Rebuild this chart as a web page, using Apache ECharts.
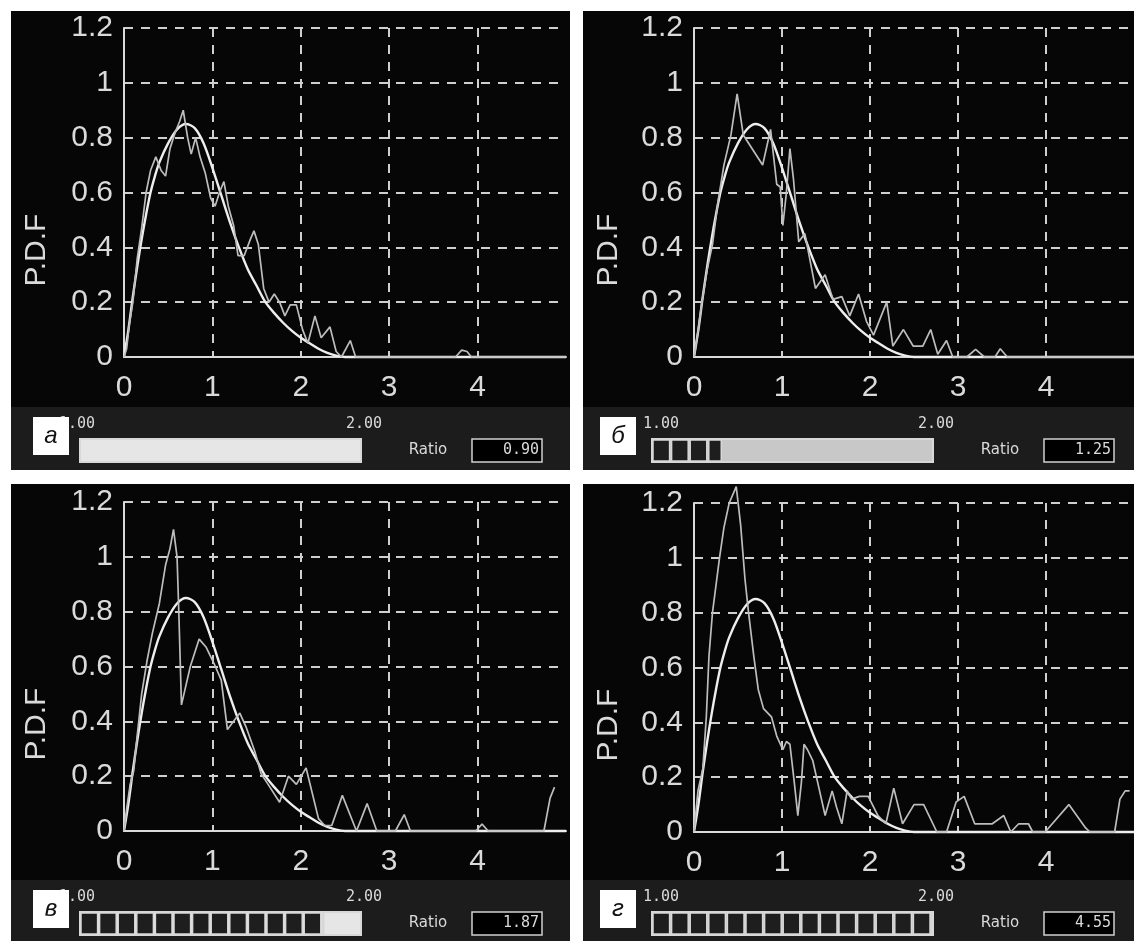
<!DOCTYPE html>
<html><head><meta charset="utf-8">
<script src="https://cdn.jsdelivr.net/npm/echarts@6/dist/echarts.min.js"></script>
<style>html,body{margin:0;padding:0;background:#fff;}#c{width:1134px;height:941px;}</style>
</head><body><div id="c"></div>
<script>
// ---- data ----
const yTicks = [0, 0.2, 0.4, 0.6, 0.8, 1, 1.2];
const xTicks = [0, 1, 2, 3, 4];
const fitCurve = [[0,0],[0.05,0.1],[0.1,0.22],[0.15,0.33],[0.2,0.43],[0.25,0.52],[0.3,0.6],[0.35,0.66],[0.4,0.71],[0.5,0.78],[0.6,0.83],[0.7,0.85],[0.8,0.835],[0.9,0.78],[1.0,0.69],[1.1,0.59],[1.2,0.49],[1.3,0.4],[1.4,0.32],[1.5,0.26],[1.6,0.2],[1.7,0.16],[1.8,0.125],[1.9,0.095],[2.0,0.07],[2.1,0.05],[2.2,0.03],[2.3,0.015],[2.4,0.005],[2.5,0],[5,0]];
const jaggedA = [[0,0],[0.03,0.03],[0.06,0.12],[0.1,0.2],[0.15,0.36],[0.2,0.47],[0.25,0.6],[0.3,0.68],[0.36,0.73],[0.42,0.68],[0.47,0.66],[0.52,0.76],[0.58,0.82],[0.63,0.86],[0.67,0.9],[0.72,0.8],[0.76,0.74],[0.81,0.8],[0.86,0.73],[0.92,0.67],[0.98,0.58],[1.03,0.55],[1.08,0.6],[1.13,0.64],[1.18,0.55],[1.24,0.48],[1.29,0.37],[1.36,0.37],[1.43,0.43],[1.47,0.46],[1.52,0.41],[1.58,0.25],[1.64,0.2],[1.7,0.23],[1.76,0.2],[1.82,0.15],[1.88,0.19],[1.95,0.19],[2.02,0.1],[2.08,0.05],[2.16,0.15],[2.23,0.07],[2.33,0.11],[2.4,0.02],[2.46,0],[2.56,0.06],[2.62,0],[3.75,0],[3.82,0.025],[3.88,0.02],[3.93,0],[5,0]];
const jaggedB = [[0,0],[0.04,0.08],[0.09,0.2],[0.15,0.32],[0.21,0.41],[0.27,0.56],[0.34,0.7],[0.42,0.81],[0.49,0.96],[0.56,0.81],[0.78,0.7],[0.87,0.83],[0.94,0.63],[0.98,0.62],[1.01,0.48],[1.05,0.6],[1.09,0.76],[1.13,0.65],[1.19,0.42],[1.26,0.45],[1.38,0.25],[1.49,0.3],[1.58,0.21],[1.68,0.22],[1.77,0.15],[1.87,0.23],[1.96,0.13],[2.04,0.08],[2.19,0.2],[2.26,0.04],[2.38,0.1],[2.49,0.04],[2.6,0.04],[2.69,0.1],[2.77,0.01],[2.87,0.06],[2.94,0],[3.1,0],[3.2,0.028],[3.3,0],[3.42,0],[3.48,0.03],[3.56,0],[5,0]];
const jaggedC = [[0,0],[0.03,0.08],[0.07,0.17],[0.11,0.22],[0.15,0.35],[0.2,0.5],[0.26,0.62],[0.32,0.72],[0.4,0.83],[0.47,0.97],[0.52,1.03],[0.56,1.1],[0.6,1.0],[0.62,0.8],[0.65,0.46],[0.75,0.6],[0.85,0.7],[0.93,0.67],[1.02,0.61],[1.1,0.55],[1.17,0.37],[1.31,0.43],[1.38,0.38],[1.48,0.29],[1.55,0.21],[1.63,0.17],[1.76,0.105],[1.86,0.2],[1.95,0.17],[2.06,0.23],[2.2,0.045],[2.27,0.02],[2.35,0.02],[2.47,0.13],[2.63,0],[2.75,0.1],[2.86,0],[3.07,0],[3.17,0.06],[3.24,0],[3.98,0],[4.05,0.025],[4.12,0],[4.75,0],[4.82,0.12],[4.87,0.16]];
const jaggedD = [[0,0],[0.045,0.15],[0.1,0.23],[0.14,0.42],[0.17,0.64],[0.21,0.8],[0.29,1.0],[0.34,1.11],[0.4,1.2],[0.48,1.26],[0.53,1.12],[0.58,0.92],[0.62,0.8],[0.68,0.64],[0.73,0.52],[0.79,0.45],[0.88,0.42],[0.94,0.35],[1.01,0.3],[1.05,0.33],[1.09,0.32],[1.14,0.18],[1.18,0.06],[1.22,0.18],[1.25,0.32],[1.29,0.3],[1.35,0.26],[1.42,0.16],[1.49,0.06],[1.57,0.15],[1.62,0.09],[1.68,0.03],[1.74,0.15],[1.79,0.12],[1.88,0.13],[1.98,0.13],[2.09,0.06],[2.18,0.03],[2.27,0.16],[2.37,0.03],[2.5,0.1],[2.61,0.1],[2.76,0],[2.87,0],[2.98,0.11],[3.07,0.13],[3.19,0.03],[3.39,0.03],[3.52,0.06],[3.6,0],[3.69,0.03],[3.8,0.03],[3.85,0],[3.99,0],[4.26,0.1],[4.45,0.015],[4.5,0],[4.78,0],[4.84,0.12],[4.9,0.15],[4.95,0.15]];
const jaggedSeries = [jaggedA, jaggedB, jaggedC, jaggedD];
const panelLetters = ['а', 'б', 'в', 'г'];
const ratios = [0.90, 1.25, 1.87, 4.55];
const barMinLabel = '1.00', barMaxLabel = '2.00';
const yName = 'P.D.F';
const ratioLabel = 'Ratio';

// ---- layout ----
const panels = [
  {L:11,  T:11,  R:570,  B:470, gx:124, gy:28,  boxX:22, minX:48, barFill:'#e6e6e6'},
  {L:583, T:11,  R:1134, B:470, gx:694, gy:28,  boxX:17, minX:60, barFill:'#c8c8c8'},
  {L:11,  T:484, R:570,  B:941, gx:124, gy:502, boxX:22, minX:48, barFill:'#e6e6e6'},
  {L:583, T:484, R:1134, B:941, gx:694, gy:503, boxX:17, minX:60, barFill:'#c8c8c8'}
];
const GW = 442, GH = 329;
const FG = '#dadada';

const chart = echarts.init(document.getElementById('c'), null, {renderer:'canvas'});
const grids = [], xAxes = [], yAxes = [], series = [], graphics = [];
panels.forEach((p, i) => {
  grids.push({left:p.gx, top:p.gy, width:GW, height:GH, containLabel:false});
  xAxes.push({type:'value', gridIndex:i, min:0, max:5, interval:1,
    axisLine:{show:true, onZero:false, lineStyle:{color:FG, width:2}},
    axisTick:{show:false},
    axisLabel:{color:FG, fontFamily:'Liberation Sans', fontSize:30, margin:16, showMaxLabel:false,
      formatter:v => xTicks.indexOf(v) >= 0 ? String(v) : ''},
    splitLine:{show:true, showMinLine:false, showMaxLine:false, lineStyle:{color:'#cfcfcf', width:2, type:[9,8]}}
  });
  yAxes.push({type:'value', gridIndex:i, min:0, max:1.2, interval:0.2,
    axisLine:{show:true, onZero:false, lineStyle:{color:FG, width:2}},
    axisTick:{show:false},
    axisLabel:{color:FG, fontFamily:'Liberation Sans', fontSize:30, margin:11,
      formatter:v => { const t = yTicks.find(k => Math.abs(k - v) < 1e-6); return t === undefined ? '' : String(t); }},
    splitLine:{show:true, showMinLine:false, lineStyle:{color:'#cfcfcf', width:2, type:[9,8]}}
  });
  series.push({type:'line', xAxisIndex:i, yAxisIndex:i, data:fitCurve, smooth:0.3, showSymbol:false,
    clip:false, lineStyle:{color:'#eeeeee', width:2.4}, z:3, silent:true});
  series.push({type:'line', xAxisIndex:i, yAxisIndex:i, data:jaggedSeries[i], smooth:false, showSymbol:false,
    clip:false, lineStyle:{color:'#bdbdbd', width:1.7}, z:4, silent:true});

  const S = p.T + 396;
  graphics.push({type:'rect', z:-100, shape:{x:p.L, y:p.T, width:p.R-p.L, height:S-p.T}, style:{fill:'#060606'}});
  graphics.push({type:'rect', z:-100, shape:{x:p.L, y:S, width:p.R-p.L, height:p.B-S}, style:{fill:'#1c1c1c'}});
  graphics.push({type:'text', z:10, x:p.L+26, y:p.gy+222, rotation:Math.PI/2,
    style:{text:yName, fill:FG, font:'30px "Liberation Sans"', textAlign:'center', textVerticalAlign:'middle'}});
  graphics.push({type:'text', z:10, x:p.L+p.minX, y:S+17,
    style:{text:barMinLabel, fill:FG, font:'15px "DejaVu Sans Mono"', textAlign:'left', textVerticalAlign:'middle'}});
  graphics.push({type:'text', z:10, x:p.L+353, y:S+17,
    style:{text:barMaxLabel, fill:FG, font:'15px "DejaVu Sans Mono"', textAlign:'center', textVerticalAlign:'middle'}});
  graphics.push({type:'rect', z:20, shape:{x:p.L+p.boxX, y:S+10, width:36, height:38}, style:{fill:'#ffffff'}});
  graphics.push({type:'text', z:21, x:p.L+p.boxX+18, y:S+29,
    style:{text:panelLetters[i], fill:'#111', font:'italic 24px "Liberation Sans"', textAlign:'center', textVerticalAlign:'middle'}});
  const bx = p.L+69, by = S+32, bw = 281, bh = 23;
  graphics.push({type:'rect', z:10, shape:{x:bx, y:by, width:bw, height:bh},
    style:{fill:p.barFill, stroke:'#d8d8d8', lineWidth:2}});
  const frac = Math.max(0, Math.min(1, (ratios[i] - 1) / (2 - 1)));
  const fillW = frac * bw, sq = 18.6;
  for (let s = 0; s * sq < fillW - 0.5; s++) {
    const w = Math.min(sq, fillW - s * sq);
    graphics.push({type:'rect', z:11, shape:{x:bx + s*sq + 1, y:by + 1, width:Math.max(1, w - 2), height:bh - 2},
      style:{fill:'#1e1e1e', stroke:'#d8d8d8', lineWidth:1.5}});
  }
  graphics.push({type:'text', z:10, x:p.L+417, y:S+43,
    style:{text:ratioLabel, fill:FG, font:'15px "DejaVu Sans"', textAlign:'center', textVerticalAlign:'middle'}});
  graphics.push({type:'rect', z:10, shape:{x:p.L+461, y:by, width:70, height:bh},
    style:{fill:'#000', stroke:'#d0d0d0', lineWidth:1.5}});
  graphics.push({type:'text', z:11, x:p.L+528, y:by + bh/2,
    style:{text:ratios[i].toFixed(2), fill:FG, font:'15px "DejaVu Sans Mono"', textAlign:'right', textVerticalAlign:'middle'}});
});

chart.setOption({
  backgroundColor:'#ffffff',
  animation:false,
  grid:grids, xAxis:xAxes, yAxis:yAxes, series:series,
  graphic:{elements:graphics}
});
</script></body></html>
